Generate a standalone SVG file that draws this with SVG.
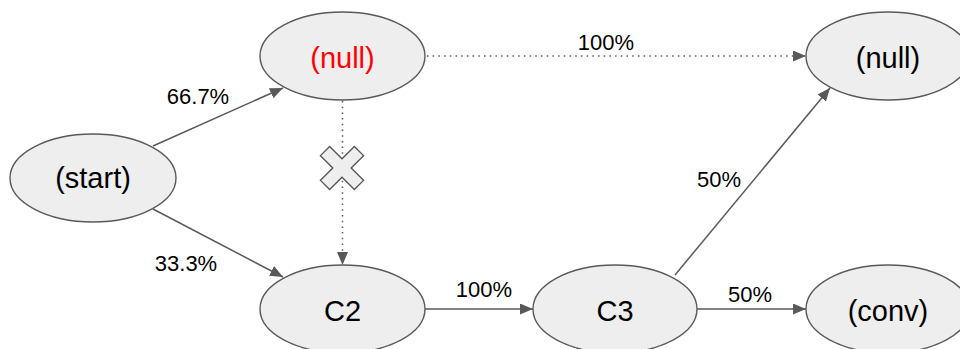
<svg xmlns="http://www.w3.org/2000/svg" width="960" height="349" viewBox="0 0 960 349">
  <style>
    .node ellipse { fill: #eeeeee; stroke: #595959; stroke-width: 1.4; }
    .node text { font-family: "Liberation Sans", Arial, sans-serif; font-size: 29px; fill: #000000; text-anchor: middle; }
    .node text.red { fill: #ff0000; }
    .edge { fill: none; stroke: #595959; stroke-width: 1.5; }
    .dotted { stroke-dasharray: 1.5 4.2; }
    .label { font-family: "Liberation Sans", Arial, sans-serif; font-size: 22px; fill: #000000; text-anchor: middle; }
  </style>
  <defs>
    <marker id="arrow" markerUnits="userSpaceOnUse" markerWidth="14" markerHeight="12" refX="13" refY="5.5" orient="auto">
      <path d="M0,0 L13,5.5 L0,11 z" fill="#595959"/>
    </marker>
  </defs>
  <rect width="960" height="349" fill="#ffffff"/>

  <g id="connectors">
    <line class="edge" x1="153" y1="146" x2="283" y2="88" marker-end="url(#arrow)"/>
    <line class="edge" x1="153" y1="209" x2="283" y2="277" marker-end="url(#arrow)"/>
    <line class="edge dotted" x1="342.5" y1="101" x2="342.5" y2="265" marker-end="url(#arrow)"/>
    <line class="edge dotted" x1="427" y1="56" x2="806" y2="56" marker-end="url(#arrow)"/>
    <line class="edge" x1="425" y1="309" x2="533" y2="309" marker-end="url(#arrow)"/>
    <line class="edge" x1="697" y1="309" x2="806" y2="309" marker-end="url(#arrow)"/>
    <line class="edge" x1="675" y1="275" x2="830" y2="88" marker-end="url(#arrow)"/>
    <text class="label" x="198" y="104">66.7%</text>
    <text class="label" x="186" y="271">33.3%</text>
    <text class="label" x="606" y="50">100%</text>
    <text class="label" x="484" y="297">100%</text>
    <text class="label" x="750" y="302">50%</text>
    <text class="label" x="719" y="187">50%</text>
  </g>

  <!-- blocked transition mark -->
  <g id="blocked">
    <polygon transform="translate(342,168) rotate(45)" points="-6.5,-24 6.5,-24 6.5,-6.5 24,-6.5 24,6.5 6.5,6.5 6.5,24 -6.5,24 -6.5,6.5 -24,6.5 -24,-6.5 -6.5,-6.5" fill="#eeeeee" stroke="#595959" stroke-width="1.4" stroke-linejoin="miter"/>
  </g>

  <g id="start" class="node">
    <ellipse cx="93" cy="178" rx="83" ry="44"/>
    <text x="93" y="188">(start)</text>
  </g>
  <g id="null-a" class="node">
    <ellipse cx="342.5" cy="56" rx="82.5" ry="44"/>
    <text class="red" x="342.5" y="68">(null)</text>
  </g>
  <g id="c2" class="node">
    <ellipse cx="342.5" cy="309" rx="82.5" ry="44"/>
    <text x="342.5" y="321">C2</text>
  </g>
  <g id="c3" class="node">
    <ellipse cx="615" cy="309" rx="82" ry="44"/>
    <text x="615" y="321">C3</text>
  </g>
  <g id="null-b" class="node">
    <ellipse cx="888" cy="56" rx="82" ry="44"/>
    <text x="888" y="68">(null)</text>
  </g>
  <g id="conv" class="node">
    <ellipse cx="888" cy="309" rx="82" ry="44"/>
    <text x="888" y="321">(conv)</text>
  </g>
</svg>
